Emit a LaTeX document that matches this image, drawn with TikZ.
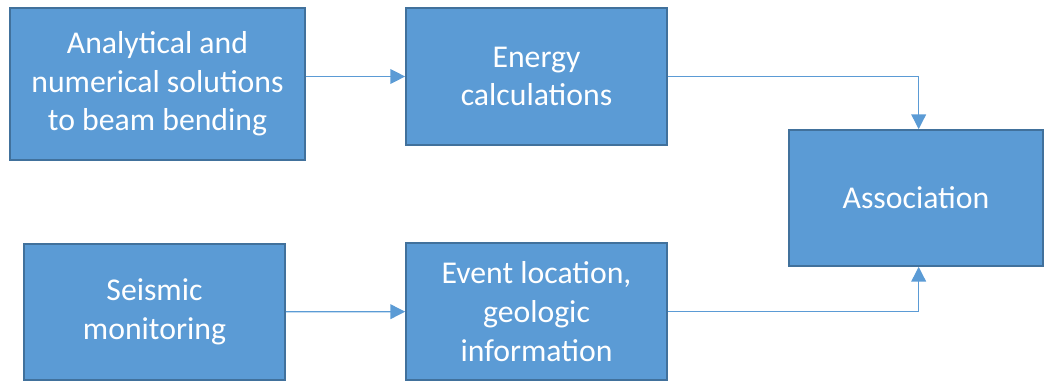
\documentclass[tikz,border=0pt]{standalone}
\usepackage{fontspec}
\setmainfont{Carlito}
\usepackage{xcolor}
\usetikzlibrary{arrows.meta,positioning}
\definecolor{boxfill}{HTML}{5B9BD5}
\definecolor{boxline}{HTML}{41719C}

\begin{document}
\begin{tikzpicture}[
        x=0.75pt, y=-0.75pt,
        font=\fontsize{23.8pt}{29pt}\selectfont,
        box/.style={draw=boxline, line width=1.3pt, fill=boxfill, text=white, align=center, inner sep=0pt},
        arr/.style={-{Triangle[length=11pt, width=11pt]}, draw=boxfill, line width=1pt}
    ]
        \useasboundingbox (0,0) rectangle (1044,381);
        \node[box, minimum width=221.25pt, minimum height=114pt] (anal) at (157.5,84) {Analytical and\\numerical solutions\\to beam bending};
        \node[box, minimum width=195.75pt, minimum height=102.75pt] (ener) at (536.5,76.5) {Energy\\calculations};
        \node[box, minimum width=190.5pt, minimum height=102pt] (assoc) at (916,198) {Association};
        \node[box, minimum width=195.75pt, minimum height=102pt] (seis) at (154.5,312) {Seismic\\monitoring};
        \node[box, minimum width=195.75pt, minimum height=102.75pt] (loc) at (536.5,311.5) {Event location,\\geologic\\information};
        \draw[arr] (anal.east |- ener.west) -- (ener.west);
        \draw[arr] (seis) -- (loc);
        \draw[arr] (ener.east) -| ([xshift=2pt]assoc.north);
        \draw[arr] (loc.east) -| ([xshift=2pt]assoc.south);
    \end{tikzpicture}
\end{document}
